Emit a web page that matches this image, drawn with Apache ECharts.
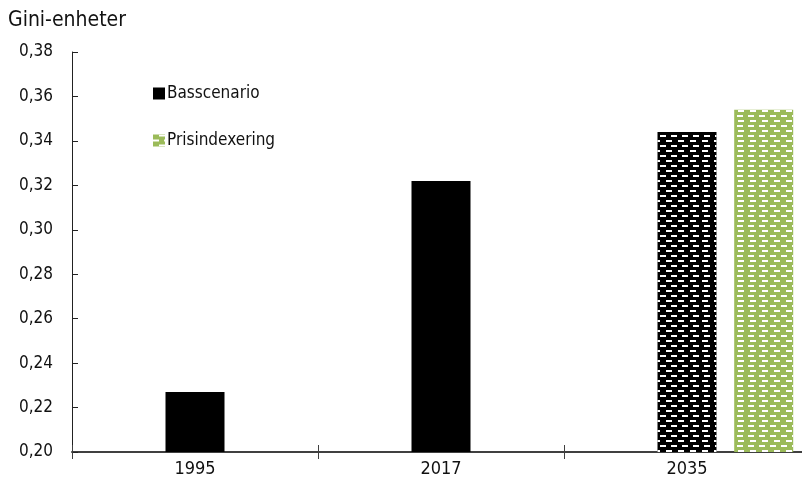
<!DOCTYPE html>
<html><head><meta charset="utf-8">
<script src="https://cdn.jsdelivr.net/npm/echarts@6/dist/echarts.min.js"></script>
<style>html,body{margin:0;padding:0;background:#fff}#c{width:802px;height:488px}</style>
</head><body><div id="c"></div>
<script>
const categories = ['1995', '2017', '2035'];
const basscenario = [0.227, 0.322, 0.344];
const prisindexering = [null, null, 0.354];
const yTicks = [0.20, 0.22, 0.24, 0.26, 0.28, 0.30, 0.32, 0.34, 0.36, 0.38];
const seriesNames = ['Basscenario', 'Prisindexering'];
const yName = 'Gini-enheter';

const FONT = '"DejaVu Sans Condensed", "Liberation Sans Narrow", sans-serif';
const GREEN = '#9bbb59';
const decal = {
  symbol: 'rect', color: '#ffffff', symbolSize: 1,
  dashArrayX: [[6, 5], [0, 5.5, 6, -0.5]], dashArrayY: [2, 3]
};

const chart = echarts.init(document.getElementById('c'), null, {renderer: 'canvas'});
chart.setOption({
  animation: false,
  textStyle: {fontFamily: FONT},
  title: {text: yName, left: 3, top: 5, textStyle: {fontFamily: FONT, fontSize: 21, fontWeight: 'normal', color: '#111'}},
  legend: {
    orient: 'vertical', left: 148, top: 80, itemGap: 30, itemWidth: 12, itemHeight: 12,
    icon: 'rect',
    textStyle: {fontFamily: FONT, fontSize: 17, color: '#111', padding: [0, 0, 0, -3]},
    data: [
      {name: seriesNames[0], itemStyle: {color: '#000'}},
      {name: seriesNames[1], itemStyle: {color: GREEN, decal: decal}}
    ]
  },
  grid: {left: 72, top: 52, width: 738, height: 400, outerBoundsMode: 'none', containLabel: false},
  xAxis: [{
    type: 'category', data: categories,
    axisLine: {lineStyle: {color: '#404040', width: 2}},
    axisTick: {show: true, length: 7, lineStyle: {color: '#404040'}},
    axisLabel: {color: '#111', fontSize: 18, fontFamily: FONT, margin: 8}
  }, {
    type: 'category', data: categories, position: 'bottom',
    axisLine: {show: false},
    axisTick: {show: true, inside: true, length: 7, lineStyle: {color: '#404040'}},
    axisLabel: {show: false}
  }],
  yAxis: {
    type: 'value', min: yTicks[0], max: yTicks[yTicks.length - 1], interval: 0.02,
    splitLine: {show: false},
    axisLine: {show: true, lineStyle: {color: '#222'}},
    axisTick: {show: true, inside: true, length: 6, lineStyle: {color: '#222'}},
    axisLabel: {color: '#111', fontSize: 17, fontFamily: FONT, margin: 19,
      formatter: v => v.toFixed(2).replace('.', ',')}
  },
  series: [{
    name: seriesNames[0], type: 'bar', xAxisIndex: 0, barWidth: 59,
    data: basscenario.map((v, i) => i === 2 ? {value: v, itemStyle: {decal: decal}} : v),
    itemStyle: {color: '#000'}
  }, {
    name: '_pad', type: 'bar', xAxisIndex: 1, barWidth: 59, barGap: '160%',
    data: [null, null, null], itemStyle: {color: 'transparent'}
  }, {
    name: seriesNames[1], type: 'bar', xAxisIndex: 1, barWidth: 59, barGap: '160%',
    data: prisindexering, itemStyle: {color: GREEN, decal: decal}
  }]
});
</script></body></html>
